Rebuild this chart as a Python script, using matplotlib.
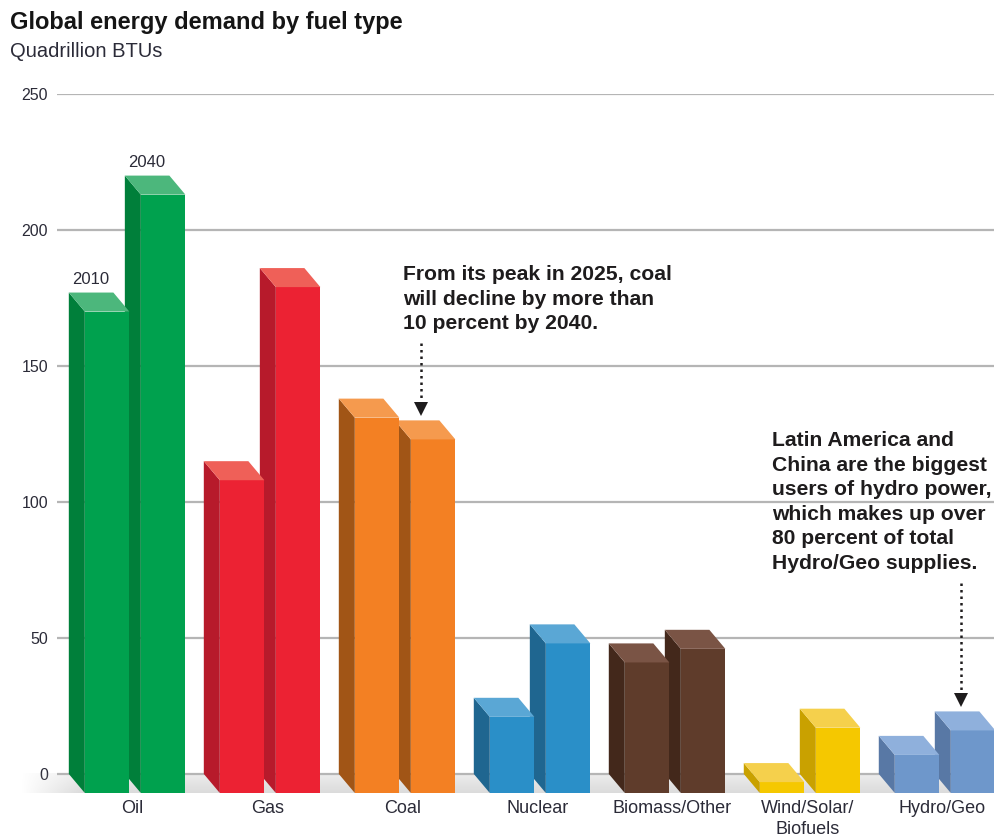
import numpy as np
import matplotlib.pyplot as plt
from matplotlib.patches import Polygon

# data (quadrillion BTUs)
categories = ["Oil", "Gas", "Coal", "Nuclear", "Biomass/Other",
              "Wind/Solar/\nBiofuels", "Hydro/Geo"]
demand_2010 = [177, 115, 138, 28, 48, 4, 14]
demand_2040 = [220, 186, 130, 55, 53, 24, 23]
yticks = [0, 50, 100, 150, 200, 250]

front_colors = ["#00a14e", "#ec2233", "#f38023", "#2a8fc8", "#5f3c2b", "#f5c800", "#6e97cb"]
side_colors = ["#007f3a", "#b71a2b", "#a15516", "#1f6690", "#43281b", "#c9a100", "#5878a5"]
top_colors = ["#4cb77c", "#ef6058", "#f59a4e", "#5aa7d5", "#7a5445", "#f5d04c", "#8fb0dc"]

W, H = 994, 836
fig = plt.figure(figsize=(W / 100, H / 100), dpi=100)
ax = fig.add_axes([57 / W, (H - 793) / H, (994 - 57) / W, (793 - 94) / H])

bw = 0.33      # front face width
step = 0.415   # 2010 -> 2040 spacing
dx = 0.1185    # depth, x
dy = 7         # depth, y (data units)
txt = "#2b2b38"


def draw_bar(x0, v, front, side, top, z):
    ax.bar(x0, v, width=bw, bottom=-dy, align="edge", color=front, lw=0, zorder=z)
    ax.add_patch(Polygon([(x0, -dy), (x0, v - dy), (x0 - dx, v), (x0 - dx, 0)],
                         closed=True, fc=side, lw=0, zorder=z))
    ax.add_patch(Polygon([(x0, v - dy), (x0 + bw, v - dy), (x0 + bw - dx, v), (x0 - dx, v)],
                         closed=True, fc=top, lw=0, zorder=z))


for i in range(len(categories)):
    x10 = i - 0.372
    x40 = x10 + step
    draw_bar(x40, demand_2040[i], front_colors[i], side_colors[i], top_colors[i], 3)
    draw_bar(x10, demand_2010[i], front_colors[i], side_colors[i], top_colors[i], 4)

# year labels on the oil bars
ax.text(-0.372 - dx + bw / 2, demand_2010[0] + 2, "2010", ha="center", va="bottom",
        fontsize=12, color=txt, family="Liberation Sans")
ax.text(-0.372 + step - dx + bw / 2, demand_2040[0] + 2, "2040", ha="center", va="bottom",
        fontsize=12, color=txt, family="Liberation Sans")

# floor shadow
xl = -0.852
grad = np.zeros((30, 300, 4))
yy = np.linspace(0, 1, 30)[:, None]          # 0 = back, 1 = front
xx = np.linspace(0, 1, 300)[None, :]
fade = np.clip((xx * (7.0 - xl)) / 0.45, 0, 1)
grad[..., :3] = 0.72
grad[..., 3] = (0.25 + 0.25 * yy) * fade
floor = Polygon([(xl, 0), (7.0, 0), (7.0 + dx, -dy), (xl + dx, -dy)], closed=True,
                transform=ax.transData, fc="none", lw=0)
im = ax.imshow(grad, extent=(xl, 7.0, -dy, 0), origin="upper", aspect="auto",
               zorder=1, clip_on=False, interpolation="bilinear")
im.set_clip_path(floor)

ax.set_xlim(-0.578, 6.363)
ax.set_ylim(-dy, 250)

ax.set_yticks(yticks)
ax.set_yticklabels([str(t) for t in yticks])
ax.set_xticks([i - 0.02 for i in range(len(categories))])
ax.set_xticklabels(categories)
ax.tick_params(axis="y", length=0, pad=6.5, labelsize=11.5, labelcolor=txt)
ax.tick_params(axis="x", length=0, pad=5, labelsize=13, labelcolor=txt)
for lab in ax.get_xticklabels() + ax.get_yticklabels():
    lab.set_family("Liberation Sans")
for lab in ax.get_xticklabels():
    lab.set_linespacing(1.3)
ax.grid(axis="y", color="#b5b5b5", lw=1.6)
ax.set_axisbelow(True)
for s in ax.spines.values():
    s.set_visible(False)

# annotations
ann = dict(fontsize=15.2, fontweight="bold", color="#1e1c1d", family="Liberation Sans",
           va="top", ha="left", linespacing=1.37)
ax.text(1.985, 187, "From its peak in 2025, coal\nwill decline by more than\n10 percent by 2040.", **ann)
ax.text(4.719, 126, "Latin America and\nChina are the biggest\nusers of hydro power,\n"
        "which makes up over\n80 percent of total\nHydro/Geo supplies.", **ann)

for i, start in [(2, 158.5), (6, 70.2)]:
    xa = i - 0.372 + step + bw / 2 - 0.75 * dx
    tip = demand_2040[i] + 1.5
    ax.plot([xa, xa], [start, tip + 2.6], color="#1e1c1d", lw=1.8,
            linestyle=(0, (1, 1.6)), zorder=5)
    ax.plot([xa], [tip + 2.6], marker="v", markersize=10, color="#1e1c1d",
            markeredgewidth=0, zorder=5)

fig.text(10 / W, 1 - 29.5 / H, "Global energy demand by fuel type", fontsize=17,
         fontweight="bold", color="#151515", family="Liberation Sans", va="baseline")
fig.text(10 / W, 1 - 57.3 / H, "Quadrillion BTUs", fontsize=14.5, color=txt,
         family="Liberation Sans", va="baseline")

fig.savefig("out.png", dpi=100)
